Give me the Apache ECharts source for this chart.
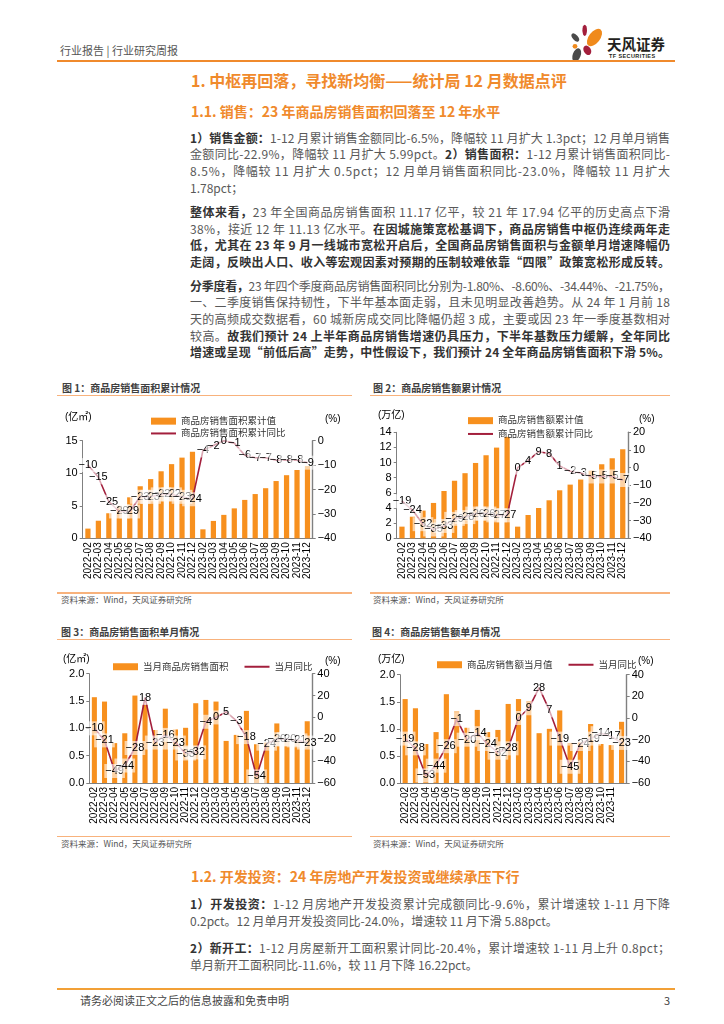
<!DOCTYPE html>
<html><head><meta charset="utf-8">
<script src="https://cdn.jsdelivr.net/npm/echarts/dist/echarts.min.js"></script>
<style>
html,body{margin:0;padding:0;}
body{width:724px;height:1024px;background:#fff;position:relative;overflow:hidden;font-family:"Noto Sans CJK SC","Noto Sans",sans-serif;}
.a{position:absolute;}
.hdr{left:60px;top:43px;font-size:11px;line-height:14px;color:#555;}
.hline{left:57px;top:60px;width:618px;height:2px;background:#F08A2C;}
.h1{left:191px;top:70px;font-size:16px;line-height:20px;font-weight:bold;color:#F08A2C;white-space:nowrap;}
.h2{left:191px;top:102px;font-size:14px;line-height:18px;font-weight:bold;color:#F08A2C;white-space:nowrap;}
.p{left:190px;width:480px;font-size:12px;color:#595959;}
.ln{white-space:nowrap;height:16.7px;line-height:16.7px;}
.p2 .ln{height:17.6px;line-height:17.6px;}
.ln b{color:#333;}
.ct{font-size:10px;line-height:12px;font-weight:bold;color:#404040;white-space:nowrap;}
.ul{height:1.5px;background:#F8B27C;}
.src{font-size:8.5px;line-height:10px;color:#555;white-space:nowrap;}
.chart{position:absolute;}
.fline{left:57px;top:988px;width:618px;height:2px;background:#F2A036;}
.ftxt{left:80px;top:993px;font-size:11px;line-height:14px;color:#444;}
.pg{left:664px;top:993px;font-size:11px;line-height:14px;color:#444;}
</style>
</head><body>

<div class="a hdr">行业报告 | 行业研究周报</div>
<svg class="a" style="left:566px;top:18px" width="42" height="46" viewBox="0 0 42 46">
  <ellipse cx="18.7" cy="12.3" rx="2.3" ry="5.6" fill="#A31F3C"/>
  <ellipse cx="9.3" cy="19.5" rx="2.6" ry="5" transform="rotate(-40 9.3 19.5)" fill="#4A4A4A"/>
  <ellipse cx="28.5" cy="19.5" rx="5.6" ry="10" transform="rotate(38 28.5 19.5)" fill="#F08A1C"/>
  <circle cx="9" cy="28.3" r="2.4" fill="#F08A1C"/>
  <ellipse cx="21.3" cy="32.3" rx="3.6" ry="5" transform="rotate(-30 21.3 32.3)" fill="#A31F3C"/>
  <ellipse cx="10.7" cy="37" rx="4" ry="7" transform="rotate(20 10.7 37)" fill="#4A4A4A"/>
</svg>
<div class="a" style="left:607px;top:35px;font-size:14.5px;line-height:18px;font-weight:bold;color:#231f20;white-space:nowrap;">天风证券</div>
<div class="a" style="left:609px;top:53px;font-size:5.5px;line-height:7px;font-weight:bold;color:#231f20;letter-spacing:0.4px;white-space:nowrap;font-family:'Liberation Sans',sans-serif;">TF SECURITIES</div>
<div class="a hline"></div>

<div class="a h1">1. 中枢再回落，寻找新均衡——统计局 12 月数据点评</div>
<div class="a h2">1.1. 销售：23 年商品房销售面积回落至 12 年水平</div>

<div class="a p" style="top:129.5px">
 <div class="ln j"><span><b>1）销售金额：</b>1-12 月累计销售金额同比-6.5%，降幅较 11 月扩大 1.3pct；12 月单月销售</span></div>
 <div class="ln j"><span>金额同比-22.9%，降幅较 11 月扩大 5.99pct。<b>2）销售面积：</b>1-12 月累计销售面积同比-</span></div>
 <div class="ln j"><span>8.5%，降幅较 11 月扩大 0.5pct；12 月单月销售面积同比-23.0%，降幅较 11 月扩大</span></div>
 <div class="ln"><span>1.78pct；</span></div>
</div>

<div class="a p" style="top:204px">
 <div class="ln j"><span><b>整体来看，</b>23 年全国商品房销售面积 11.17 亿平，较 21 年 17.94 亿平的历史高点下滑</span></div>
 <div class="ln j"><span>38%，接近 12 年 11.13 亿水平。<b>在因城施策宽松基调下，商品房销售中枢仍连续两年走</b></span></div>
 <div class="ln j"><span><b>低，尤其在 23 年 9 月一线城市宽松开启后，全国商品房销售面积与金额单月增速降幅仍</b></span></div>
 <div class="ln j"><span><b>走阔，反映出人口、收入等宏观因素对预期的压制较难依靠“四限”政策宽松形成反转。</b></span></div>
</div>

<div class="a p" style="top:277.5px">
 <div class="ln j"><span><b>分季度看，</b>23 年四个季度商品房销售面积同比分别为-1.80%、-8.60%、-34.44%、-21.75%，</span></div>
 <div class="ln j"><span>一、二季度销售保持韧性，下半年基本面走弱，且未见明显改善趋势。从 24 年 1 月前 18</span></div>
 <div class="ln j"><span>天的高频成交数据看，60 城新房成交同比降幅仍超 3 成，主要或因 23 年一季度基数相对</span></div>
 <div class="ln j"><span>较高。<b>故我们预计 24 上半年商品房销售增速仍具压力，下半年基数压力缓解，全年同比</b></span></div>
 <div class="ln j"><span><b>增速或呈现“前低后高”走势，中性假设下，我们预计 24 全年商品房销售面积下滑 5%。</b></span></div>
</div>

<!-- chart blocks -->
<div class="a ct" style="left:62px;top:381.7px">图 1：商品房销售面积累计情况</div>
<div class="a ul" style="left:57px;top:394.5px;width:295px"></div>
<div class="a ct" style="left:373px;top:381.7px">图 2：商品房销售额累计情况</div>
<div class="a ul" style="left:370px;top:394.5px;width:300px"></div>
<div id="c1" class="chart" style="left:57px;top:398px;width:295px;height:192px"></div>
<div id="c2" class="chart" style="left:370px;top:398px;width:300px;height:192px"></div>
<div class="a ul" style="left:57px;top:592px;width:295px"></div>
<div class="a ul" style="left:370px;top:592px;width:300px"></div>
<div class="a src" style="left:61px;top:594.3px">资料来源：Wind，天风证券研究所</div>
<div class="a src" style="left:373px;top:594.3px">资料来源：Wind，天风证券研究所</div>

<div class="a ct" style="left:61px;top:625.7px">图 3：商品房销售面积单月情况</div>
<div class="a ul" style="left:57px;top:638.5px;width:295px"></div>
<div class="a ct" style="left:372px;top:625.7px">图 4：商品房销售额单月情况</div>
<div class="a ul" style="left:370px;top:638.5px;width:300px"></div>
<div id="c3" class="chart" style="left:57px;top:645px;width:295px;height:188px"></div>
<div id="c4" class="chart" style="left:370px;top:645px;width:300px;height:188px"></div>
<div class="a ul" style="left:57px;top:835.5px;width:295px"></div>
<div class="a ul" style="left:370px;top:835.5px;width:300px"></div>
<div class="a src" style="left:61px;top:838.3px">资料来源：Wind，天风证券研究所</div>
<div class="a src" style="left:373px;top:838.3px">资料来源：Wind，天风证券研究所</div>

<div class="a h2" style="top:867px">1.2. 开发投资：24 年房地产开发投资或继续承压下行</div>
<div class="a p p2" style="top:894.5px">
 <div class="ln j"><span><b>1）开发投资：</b>1-12 月房地产开发投资累计完成额同比-9.6%，累计增速较 1-11 月下降</span></div>
 <div class="ln"><span>0.2pct。12 月单月开发投资同比-24.0%，增速较 11 月下滑 5.88pct。</span></div>
</div>
<div class="a p p2" style="top:938.5px">
 <div class="ln j"><span><b>2）新开工：</b>1-12 月房屋新开工面积累计同比-20.4%，累计增速较 1-11 月上升 0.8pct；</span></div>
 <div class="ln"><span>单月新开工面积同比-11.6%，较 11 月下降 16.22pct。</span></div>
</div>

<div class="a fline"></div>
<div class="a ftxt">请务必阅读正文之后的信息披露和免责申明</div>
<div class="a pg">3</div>

<script>
// ---------- data ----------
const categories = ['2022-02','2022-03','2022-04','2022-05','2022-06','2022-07','2022-08','2022-09','2022-10','2022-11','2022-12',
                    '2023-02','2023-03','2023-04','2023-05','2023-06','2023-07','2023-08','2023-09','2023-10','2023-11','2023-12'];

// 图1 商品房销售面积累计值（亿㎡）与累计同比（%）
const areaCum    = [1.49, 2.7, 3.85, 5.0, 6.3, 8.0, 9.1, 10.3, 11.4, 12.4, 13.3,
                    1.38, 2.67, 3.6, 4.6, 5.9, 6.8, 7.7, 8.8, 9.7, 10.5, 11.1];
const areaCumYoy = [-10, -15, -25, -29, -29, -23, -23, -22, -22, -23, -24,
                    -4, -2, 0, -1, -6, -7, -7, -8, -8, -8, -9];

// 图2 商品房销售额累计值（万亿）与累计同比（%）
const salesCum    = [1.54, 2.9, 3.66, 4.67, 6.25, 7.6, 8.6, 9.95, 10.97, 11.98, 13.4,
                     1.54, 3.08, 4.0, 5.02, 6.34, 7.09, 7.84, 8.94, 9.78, 10.57, 11.76];
const salesCumYoy = [-19, -24, -32, -35, -33, -29, -28, -26, -26, -27, -27,
                     0, 4, 9, 8, 1, -2, -3, -5, -5, -5, -7];

// 图3 当月商品房销售面积（亿㎡）与当月同比（%）
const areaMonth    = [1.57, 1.49, 0.73, 0.91, 1.60, 1.43, 0.97, 1.36, 0.98, 1.01, 1.46,
                      1.52, 1.49, 0.77, 0.88, 1.32, 0.71, 0.74, 1.09, 0.78, 0.79, 1.13];
const areaMonthYoy = [-10, -21, -49, -44, -28, 18, -23, -16, -23, -33, -32,
                      -4, 0, 5, -3, -18, -54, -24, -20, -20, -21, -23];

// 图4 商品房销售额当月值（万亿）与当月同比（%）
const salesMonth    = [1.55, 1.38, 0.72, 0.94, 1.64, 1.32, 1.02, 1.35, 0.94, 0.98, 1.46,
                       1.55, 1.51, 0.92, 1.00, 1.34, 0.74, 0.75, 1.09, 0.72, 0.70, 1.13];
const salesMonthYoy = [-19, -28, -53, -44, -26, -1, -20, -14, -24, -32, -28,
                       0, 9, 28, 7, -19, -45, -24, -19, -14, -17, -23];

// ---------- styles ----------
const BAR = '#F7901E', LINE = '#A31F3C', AX = '#808080';
const FONT = '"Liberation Sans", "Noto Sans CJK SC", sans-serif';
const minus = v => (v < 0 ? '\u2212' + Math.abs(v) : String(v));

function yAxisBase(pos, min, max, interval, fmt) {
  return {
    type: 'value', position: pos, min: min, max: max, interval: interval,
    axisLine: {show: true, lineStyle: {color: AX, width: pos === 'right' ? 1.4 : 1}},
    axisTick: {show: true, inside: false, length: 3, lineStyle: {color: AX}},
    splitLine: {show: false},
    axisLabel: {color: '#000', fontSize: 11, margin: 5, fontFamily: FONT, formatter: fmt,
                hideOverlap: false}
  };
}

function build(id, o) {
  const chart = echarts.init(document.getElementById(id), null, {renderer: 'canvas'});
  const xLabel = {rotate: 90, fontSize: 10, color: '#000', margin: 4,
                  interval: o.xInterval || 0, fontFamily: FONT, hideOverlap: false,
                  showMinLabel: true};
  if (!o.xInterval) xLabel.showMaxLabel = true;
  chart.setOption({
    animation: false,
    textStyle: {fontFamily: FONT},
    grid: o.grid,
    legend: Object.assign({
      data: [
        {name: o.barName, icon: 'rect'},
        {name: o.lineName, itemStyle: {opacity: 0}}
      ],
      itemWidth: 25, itemHeight: 7,
      textStyle: {fontSize: 9.5, color: '#333', fontFamily: '"Noto Sans CJK SC", sans-serif'},
      selectedMode: false
    }, o.legend),
    xAxis: {
      type: 'category', data: categories, boundaryGap: true,
      axisLine: {show: true, lineStyle: {color: AX}},
      axisTick: {show: false},
      axisLabel: xLabel
    },
    yAxis: [o.yLeft, o.yRight],
    series: [
      {name: o.barName, type: 'bar', data: o.bars, yAxisIndex: 0, barWidth: '50%',
       itemStyle: {color: BAR}},
      {name: o.lineName, type: 'line', data: o.line, yAxisIndex: 1,
       symbol: 'circle', symbolSize: 1, showSymbol: true,
       itemStyle: {color: LINE},
       lineStyle: {color: LINE, width: 1.6},
       label: {show: true, position: 'inside', color: '#000', fontSize: 11,
               fontFamily: FONT,
               backgroundColor: 'rgba(255,255,255,0.6)', padding: [2, 1, 1, 1],
               formatter: p => minus(p.value)}}
    ],
    graphic: o.units.map(u => ({
      type: 'text', left: u[1], top: u[2],
      style: {text: u[0], fontSize: 10, fill: '#000', fontFamily: FONT}
    }))
  });
}

const fmt1 = v => v.toFixed(1);

build('c1', {
  grid: {left: 25.7, top: 42.7, width: 230, height: 97.6},
  legend: {orient: 'vertical', left: 88, top: 12, itemGap: 0, textStyle: {fontSize: 9.5, color: '#333', lineHeight: 12.3}},
  barName: '商品房销售面积累计值', lineName: '商品房销售面积累计同比',
  bars: areaCum, line: areaCumYoy,
  yLeft: yAxisBase('left', 0, 15, 5),
  yRight: yAxisBase('right', -40, 0, 10, minus),
  units: [['(亿㎡)', 8, 14], ['(%)', 268, 16]]
});
build('c2', {
  grid: {left: 26.7, top: 34.3, width: 231.3, height: 106},
  legend: {orient: 'vertical', left: 92, top: 11, itemGap: 0, textStyle: {fontSize: 9.5, color: '#333', lineHeight: 13.3}},
  barName: '商品房销售额累计值', lineName: '商品房销售额累计同比',
  bars: salesCum, line: salesCumYoy,
  yLeft: yAxisBase('left', 0, 14, 2),
  yRight: yAxisBase('right', -40, 20, 10, minus),
  units: [['(万亿)', 8, 12], ['(%)', 269, 16]]
});
build('c3', {
  grid: {left: 32.3, top: 28.7, width: 223, height: 109.3},
  legend: {orient: 'horizontal', left: 51, top: 12, itemGap: 15},
  barName: '当月商品房销售面积', lineName: '当月同比',
  bars: areaMonth, line: areaMonthYoy,
  yLeft: yAxisBase('left', 0, 2, 0.5, fmt1),
  yRight: yAxisBase('right', -60, 40, 20, minus),
  units: [['(亿㎡)', 6, 9], ['(%)', 268, 11]]
});
build('c4', {
  grid: {left: 30, top: 29.7, width: 226.7, height: 108.3},
  legend: {orient: 'horizontal', left: 62, top: 10, itemGap: 15},
  barName: '商品房销售额当月值', lineName: '当月同比',
  bars: salesMonth, line: salesMonthYoy,
  xInterval: (i) => i < categories.length - 1,
  yLeft: yAxisBase('left', 0, 2, 0.5, fmt1),
  yRight: yAxisBase('right', -60, 40, 20, minus),
  units: [['(万亿)', 8, 9], ['(%)', 268, 11]]
});

// ---------- justify body lines to the text block width ----------
function justify() {
  document.querySelectorAll('.ln.j').forEach(el => {
    const span = el.firstElementChild;
    span.style.letterSpacing = '0px';
    const w = span.getBoundingClientRect().width;
    const n = span.textContent.length;
    const target = el.getBoundingClientRect().width;
    const ls = (target - w) / Math.max(1, n - 1);
    span.style.letterSpacing = ls + 'px';
  });
}
justify();
if (document.fonts && document.fonts.ready) document.fonts.ready.then(justify);
</script>
</body></html>
